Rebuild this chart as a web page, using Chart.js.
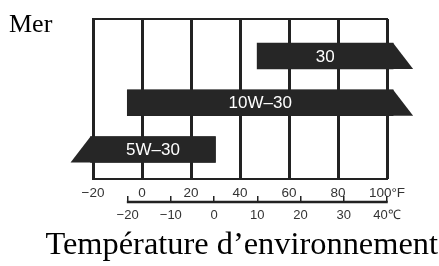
<!DOCTYPE html>
<html>
<head>
<meta charset="utf-8">
<script src="https://cdn.jsdelivr.net/npm/chart.js@4.4.1/dist/chart.umd.min.js"></script>
<style>
  html, body { margin: 0; padding: 0; background: #fff; }
  #wrap { width: 439px; height: 266px; }
</style>
</head>
<body>
<div id="wrap"><canvas id="chart" width="439" height="266"></canvas></div>
<script>
// oil grades and the temperature range each covers (°F)
const grades = ['30', '10W\u201330', '5W\u201330'];
const fromF = [47, -6, -21];
const toF = [102.5, 102.5, 30];
const fahrenheitTicks = [-20, 0, 20, 40, 60, 80, 100];
const celsiusTicks = [-20, -10, 0, 10, 20, 30, 40];

const fmt = v => (v < 0 ? '\u2212' + Math.abs(v) : String(v));
const ink = '#222';

// box, tapered bars, bar labels, celsius axis line and captions
const oilBars = {
    id: 'oilBars',
    beforeDatasetsDraw(chart) {
        const { ctx, chartArea: a } = chart;
        ctx.save();
        ctx.strokeStyle = ink;
        ctx.lineWidth = 2;
        ctx.strokeRect(a.left, a.top, a.width, a.height);
        ctx.restore();
    },
    afterDatasetsDraw(chart, args, opts) {
        const { ctx } = chart;
        const meta = chart.getDatasetMeta(0);
        ctx.save();
        meta.data.forEach((bar, i) => {
            const p = bar.getProps(['x', 'y', 'base', 'height'], true);
            const l = Math.min(p.x, p.base), r = Math.max(p.x, p.base);
            const t = p.y - p.height / 2, b = p.y + p.height / 2;
            ctx.beginPath();
            ctx.moveTo(l, t);
            ctx.lineTo(r, t);
            if (opts.sides[i] === 'end') {
                ctx.lineTo(r + opts.taper, b);
                ctx.lineTo(l, b);
            } else {
                ctx.lineTo(r, b);
                ctx.lineTo(l - opts.taper, b);
            }
            ctx.closePath();
            ctx.fillStyle = opts.color;
            ctx.fill();

            ctx.fillStyle = '#fff';
            ctx.font = '17px "Liberation Sans", Arial, sans-serif';
            ctx.textAlign = 'center';
            ctx.textBaseline = 'middle';
            ctx.fillText(grades[i], (l + r) / 2, p.y + 1);
        });
        ctx.restore();
    },
    afterDraw(chart) {
        const { ctx } = chart;
        const c = chart.scales.x2;
        ctx.save();
        ctx.strokeStyle = ink;
        ctx.lineWidth = 2.5;
        ctx.beginPath();
        ctx.moveTo(c.getPixelForValue(celsiusTicks[0]) - 0.75, c.top);
        ctx.lineTo(c.getPixelForValue(celsiusTicks[celsiusTicks.length - 1]) + 0.75, c.top);
        ctx.stroke();

        ctx.fillStyle = '#000';
        ctx.textBaseline = 'alphabetic';
        ctx.font = '26px "Liberation Serif", "Times New Roman", serif';
        ctx.textAlign = 'left';
        ctx.fillText('Mer', 9, 32);
        ctx.font = '32.4px "Liberation Serif", "Times New Roman", serif';
        ctx.textAlign = 'right';
        ctx.fillText('Temp\u00e9rature d\u2019environnement', 438, 254);
        ctx.restore();
    }
};

new Chart(document.getElementById('chart'), {
    type: 'bar',
    data: {
        datasets: [{
            data: grades.map((g, i) => ({ x: [fromF[i], toF[i]], y: i })),
            backgroundColor: '#262626',
            borderWidth: 0,
            barThickness: 26,
            clip: false
        }]
    },
    plugins: [oilBars],
    options: {
        indexAxis: 'y',
        responsive: false,
        animation: false,
        devicePixelRatio: 1,
        events: [],
        layout: { padding: { left: 93, right: 52, top: 19, bottom: 44 } },
        plugins: {
            legend: { display: false },
            tooltip: { enabled: false },
            oilBars: { color: '#262626', taper: 20, sides: ['end', 'end', 'start'] }
        },
        scales: {
            y: {
                type: 'linear',
                reverse: true,
                offset: false,
                min: -0.79,
                max: 2.63,
                display: false
            },
            x: {
                type: 'linear',
                position: 'bottom',
                min: -20,
                max: 100,
                afterBuildTicks: s => { s.ticks = fahrenheitTicks.map(v => ({ value: v })); },
                afterFit: s => { s.height = 23; },
                border: { display: false },
                grid: { color: ink, lineWidth: 3, drawTicks: false },
                ticks: {
                    padding: 6,
                    color: '#333',
                    font: { family: '"Liberation Sans", Arial, sans-serif', size: 13.5 },
                    callback: v => fmt(v) + (v === fahrenheitTicks[fahrenheitTicks.length - 1] ? '\u00b0F' : '')
                }
            },
            x2: {
                type: 'linear',
                position: 'bottom',
                min: -28,
                max: 40,
                afterBuildTicks: s => { s.ticks = celsiusTicks.map(v => ({ value: v })); },
                afterFit: s => { s.height = 20; },
                border: { display: false },
                grid: { drawOnChartArea: false, drawTicks: true, tickLength: -6, color: ink, lineWidth: 1.5 },
                ticks: {
                    padding: 12,
                    color: '#333',
                    font: { family: '"Liberation Sans", Arial, sans-serif', size: 13 },
                    callback: v => fmt(v) + (v === celsiusTicks[celsiusTicks.length - 1] ? '\u2103' : '')
                }
            }
        }
    }
});
</script>
</body>
</html>
